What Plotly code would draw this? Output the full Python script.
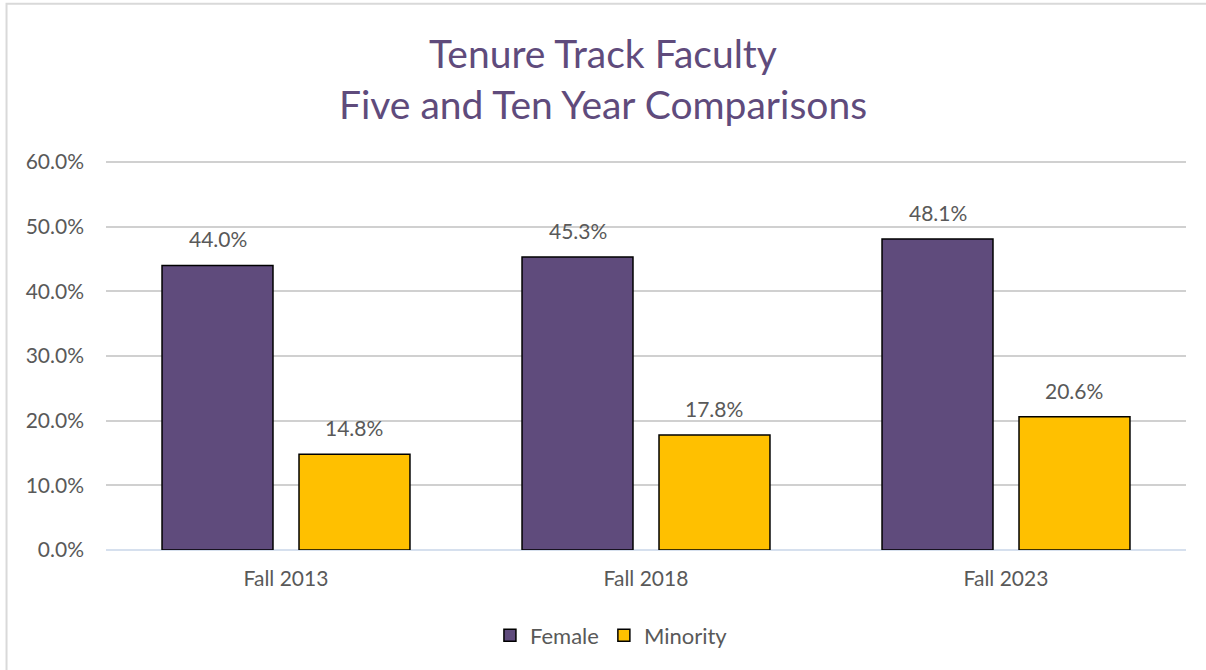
import plotly.graph_objects as go

categories = ["Fall 2013", "Fall 2018", "Fall 2023"]
female = [44.0, 45.3, 48.1]
minority = [14.8, 17.8, 20.6]
y_ticks = [0, 10, 20, 30, 40, 50, 60]
y_tick_labels = ["0.0%", "10.0%", "20.0%", "30.0%", "40.0%", "50.0%", "60.0%"]

FONT = "Lato, 'Open Sans', sans-serif"
PURPLE = "#5f4b7c"
GOLD = "#ffc000"
GREY = "#595959"

BARGAP = 0.239
slot = 360 * (1 - BARGAP) / 2  # px width of one bar slot inside a group

fig = go.Figure()
notes = []
for i, (name, vals, col) in enumerate([("Female", female, PURPLE), ("Minority", minority, GOLD)]):
    fig.add_trace(go.Bar(
        x=categories, y=vals, name=name,
        marker=dict(color=col, line=dict(color="#000000", width=1.5)),
    ))
    # value labels sit a bit higher above the bars than plotly's outside text
    for c, v in zip(categories, vals):
        notes.append(dict(x=c, y=v, text=f"{v:.1f}%", showarrow=False,
                          xref="x", yref="y", yanchor="bottom",
                          xshift=(i - 0.5) * slot, yshift=12,
                          font=dict(size=21, color=GREY, family=FONT)))

fig.update_layout(
    width=1206, height=670,
    margin=dict(l=106, r=20, t=160, b=120),
    paper_bgcolor="white", plot_bgcolor="white",
    font=dict(family=FONT, color=GREY),
    title=dict(text="Tenure Track Faculty<br>Five and Ten Year Comparisons",
               x=0.5, xanchor="center", y=0.898, yanchor="top",
               font=dict(size=39, color=PURPLE, family=FONT)),
    barmode="group", bargap=BARGAP, bargroupgap=0.19,
    showlegend=True,
    legend=dict(orientation="h", x=0.468, xanchor="center", y=-0.165, yanchor="top",
                font=dict(size=22, color=GREY, family=FONT)),
    xaxis=dict(tickfont=dict(size=21, color=GREY), showline=False, ticks="",
               ticklabelstandoff=14),
    yaxis=dict(range=[0, 60.3], tickvals=y_ticks, ticktext=y_tick_labels,
               tickfont=dict(size=21, color=GREY),
               showgrid=True, gridcolor="#d0d0d0", gridwidth=1.5,
               zeroline=True, zerolinecolor="#d6e0ee", zerolinewidth=1.5,
               ticks="", ticklabelstandoff=21),
    annotations=notes,
    shapes=[dict(type="rect", xref="paper", yref="paper",
                 x0=-0.0921, x1=1.05, y0=-0.5, y1=1.4008,
                 line=dict(color="#d9d9d9", width=2), layer="below")],
)

fig.write_html("out.html", config={"displayModeBar": False},
               post_script="document.body.style.margin='0';")
